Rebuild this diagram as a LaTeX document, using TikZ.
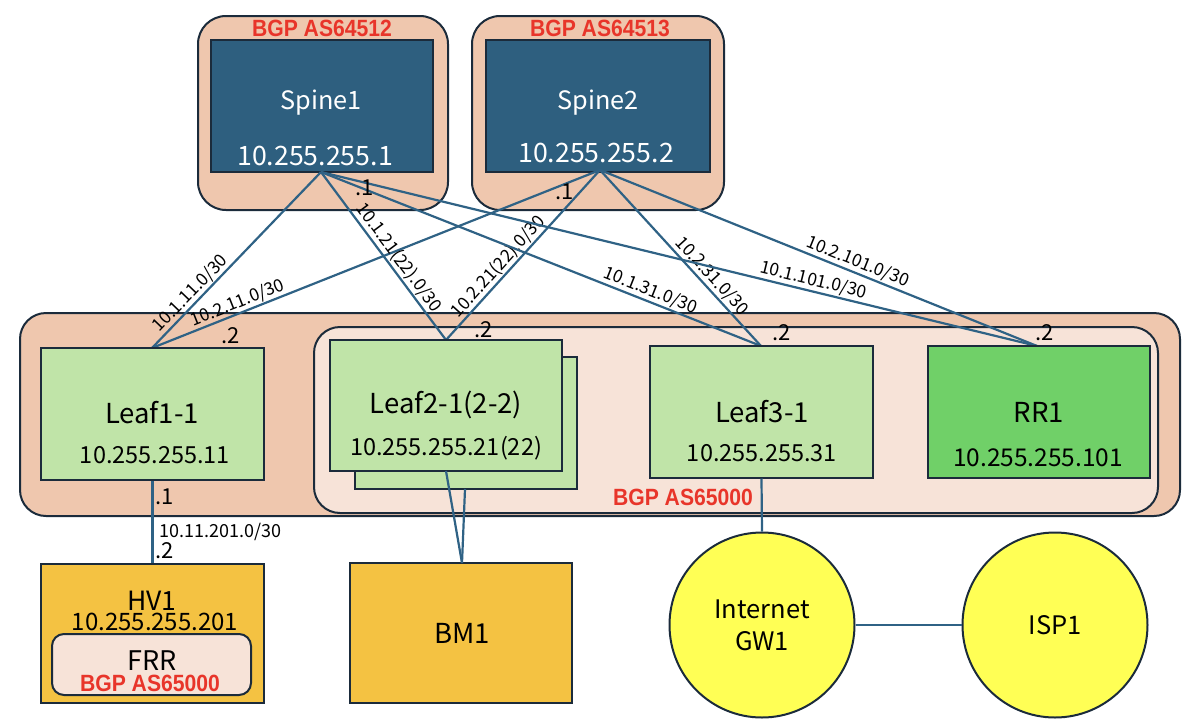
\documentclass[tikz,border=0pt]{standalone}
\usepackage{fontspec}
\newfontfamily\jp{Noto Sans CJK JP}
\newfontfamily\bgpf[FakeStretch=0.9]{Liberation Sans}
\definecolor{bd}{HTML}{1B2B3B}
\definecolor{peach}{HTML}{EFC7AE}
\definecolor{lightpeach}{HTML}{F7E3D8}
\definecolor{spblue}{HTML}{2E5F7F}
\definecolor{leafg}{HTML}{C0E4A8}
\definecolor{rrg}{HTML}{70D068}
\definecolor{orng}{HTML}{F4C242}
\definecolor{yel}{HTML}{FFFF55}
\definecolor{lnk}{HTML}{2F6285}
\definecolor{bgpred}{HTML}{E8352A}
\tikzset{
  grp/.style={draw=bd, line width=2pt, fill=peach, rounded corners=28pt},
  spinebox/.style={draw=bd, line width=2pt, fill=spblue, minimum width=222pt, minimum height=132pt, inner sep=0pt},
  leafbox/.style={draw=bd, line width=2pt, fill=leafg, minimum width=223pt, minimum height=132pt, inner sep=0pt},
  link/.style={draw=lnk, line width=2.2pt},
  lbl/.style={font=\jp\fontsize{17.5}{18}\selectfont, sloped, anchor=south, inner sep=1.5pt},
  dot/.style={font=\jp\fontsize{22}{22}\selectfont, inner sep=0pt},
  bgp/.style={font=\bgpf\bfseries\fontsize{23.5}{24}\selectfont, text=bgpred, inner sep=0pt},
  sname/.style={font=\jp\fontsize{25.3}{26}\selectfont, text=white, inner sep=0pt},
  sip/.style={font=\jp\fontsize{26.7}{27}\selectfont, text=white, inner sep=0pt},
  lname/.style={font=\jp\fontsize{27.5}{28}\selectfont, inner sep=0pt},
  lip/.style={font=\jp\fontsize{23.5}{24}\selectfont, inner sep=0pt},
  circ/.style={circle, draw=bd, line width=2pt, fill=yel, minimum size=185pt, inner sep=0pt, align=center, font=\jp\fontsize{25.5}{32}\selectfont},
}
\begin{document}
\begin{tikzpicture}[x=1pt,y=-1pt]
\useasboundingbox (0,0) rectangle (1200,718);
% groups
\node[grp, minimum width=250pt, minimum height=194pt, inner sep=0pt] (g1) at (323,113) {};
\node[grp, minimum width=252pt, minimum height=194pt, inner sep=0pt] (g2) at (598,113) {};
\node[grp, rounded corners=26pt, minimum width=1160pt, minimum height=203pt, inner sep=0pt] (g3) at (600,414.5) {};
\node[draw=bd, line width=2pt, fill=lightpeach, rounded corners=26pt, minimum width=844pt, minimum height=186pt, inner sep=0pt] (g4) at (736,420) {};
% spines
\node[spinebox] (s1) at (321.5,106) {};
\node[spinebox, minimum width=224pt] (s2) at (598,106) {};
\node[bgp] (b1) at (322,28) {BGP AS64512};
\node[bgp] (b2) at (600,28) {BGP AS64513};
\node[sname] (s1n) at (321,103) {Spine1};
\node[sip] (s1i) at (315,156) {10.255.255.1};
\node[sname] (s2n) at (598,103) {Spine2};
\node[sip] (s2i) at (596,153) {10.255.255.2};
% leaf anchor coordinates
\coordinate (l1t) at (152,348);
\coordinate (l2t) at (446,340);
\coordinate (l3t) at (761,346);
\coordinate (rrt) at (1037,346);
\coordinate (s1b) at (321,172);
\coordinate (s2b) at (600,170);
% links
\draw[link] (s1b) -- (l1t);
\path (l1t) -- node[lbl, pos=0.27] {10.1.11.0/30} (s1b);
\draw[link] (s2b) -- (l1t);
\path (l1t) -- node[lbl, pos=0.2] {10.2.11.0/30} (s2b);
\draw[link] (s1b) -- node[lbl, pos=0.55] {10.1.21(22).0/30} (l2t);
\draw[link] (s2b) -- (l2t);
\path (l2t) -- node[lbl, pos=0.39] {10.2.21(22).0/30} (s2b);
\draw[link] (s1b) -- node[lbl, pos=0.74] {10.1.31.0/30} (l3t);
\draw[link] (s2b) -- node[lbl, pos=0.645] {10.2.31.0/30} (l3t);
\draw[link] (s1b) -- node[lbl, pos=0.684] {10.1.101.0/30} (rrt);
\draw[link] (s2b) -- node[lbl, pos=0.58] {10.2.101.0/30} (rrt);
% leaves
\node[leafbox] (l1) at (152.5,414) {};
\node[leafbox, minimum width=222pt] (l2b) at (465.5,423) {};
\node[leafbox, minimum width=232pt, minimum height=131pt] (l2) at (446,405.5) {};
\node[leafbox] (l3) at (761.5,411.5) {};
\node[leafbox, fill=rrg, minimum width=222pt] (rr) at (1039,412) {};
\node[lname] (l1n) at (152,413) {Leaf1-1};
\node[lip] (l1i) at (155,455) {10.255.255.11};
\node[lname] (l2n) at (446,405) {Leaf2-1(2-2)};
\node[lip] (l2i) at (446,448) {10.255.255.21(22)};
\node[lname] (l3n) at (762,412) {Leaf3-1};
\node[lip] (l3i) at (762,453) {10.255.255.31};
\node[lname] (rrn) at (1039,412) {RR1};
\node[lip, font=\jp\fontsize{24.5}{25}\selectfont] (rri) at (1038,458) {10.255.255.101};
\node[bgp] (b3) at (683,497) {BGP AS65000};
% dots
\node[dot] (d1) at (365,188) {.1};
\node[dot] (d2) at (565,192) {.1};
\node[dot] (d3) at (231,336) {.2};
\node[dot] (d4) at (484,330) {.2};
\node[dot] (d5) at (782,333) {.2};
\node[dot] (d6) at (1045,333) {.2};
% bottom
\node[draw=bd, line width=2pt, fill=orng, minimum width=223pt, minimum height=139pt, inner sep=0pt] (hv) at (152.5,633.5) {};
\node[lname, font=\jp\fontsize{26.5}{27}\selectfont] (hvn) at (152,601) {HV1};
\node[lip, font=\jp\fontsize{24}{24}\selectfont] (hvi) at (155,622) {10.255.255.201};
\node[draw=bd, line width=2pt, fill=lightpeach, rounded corners=12pt, minimum width=199pt, minimum height=61pt, inner sep=0pt] (frr) at (151.5,664.5) {};
\node[lname, font=\jp\fontsize{27}{27}\selectfont] (frrn) at (152,661) {FRR};
\node[bgp] (b4) at (150,683) {BGP AS65000};
\node[draw=bd, line width=2pt, fill=orng, minimum width=222pt, minimum height=140pt, inner sep=0pt] (bm) at (461,633) {};
\node[lname] (bmn) at (462,633) {BM1};
\node[circ] (gw) at (762,625) {Internet\\GW1};
\node[circ] (isp) at (1055,625) {ISP1};
\draw[link] (l1.south) -- (hv.north);
\node[dot] (d7) at (165,497) {.1};
\node[dot] (d8) at (165,551) {.2};
\node[font=\jp\fontsize{18}{18}\selectfont, anchor=west, inner sep=0pt] (hl) at (159,532) {10.11.201.0/30};
\coordinate (bmt) at (462,563);
\coordinate (l2bot) at (446,471);
\coordinate (l2bbot) at (465,489);
\draw[link] (l2bot) -- (bmt);
\draw[link] (l2bbot) -- (bmt);
\draw[link] (l3.south) -- (gw.north);
\draw[link] (gw.east) -- (isp.west);
\end{tikzpicture}
\end{document}
